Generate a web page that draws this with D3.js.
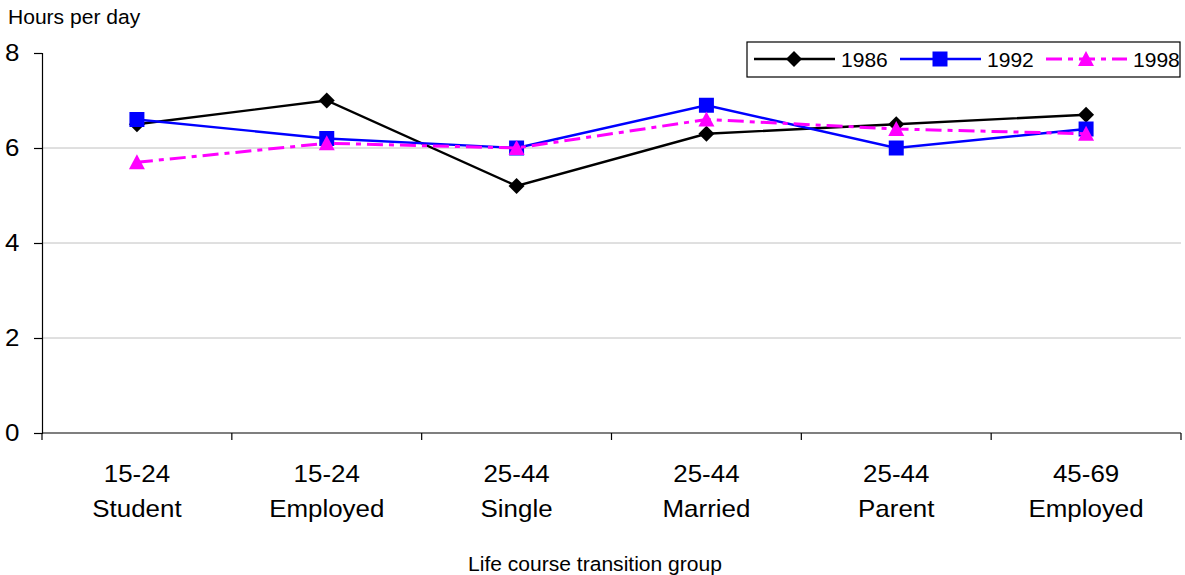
<!DOCTYPE html>
<html>
<head>
<meta charset="utf-8">
<script src="https://cdn.jsdelivr.net/npm/d3@7"></script>
<style>
  html, body { margin: 0; padding: 0; background: #fff; }
  svg { display: block; font-family: "Liberation Sans", Arial, sans-serif; }
</style>
</head>
<body>
<svg id="chart" width="1185" height="575"></svg>
<script>
// Categories (two-line labels: age band, then status)
const groupAges = ["15-24", "15-24", "25-44", "25-44", "25-44", "45-69"];
const groupStatus = ["Student", "Employed", "Single", "Married", "Parent", "Employed"];
const categories = groupAges.map((a, i) => a + " " + groupStatus[i]);

// Hours per day by survey year
const years = ["1986", "1992", "1998"];
const hours1986 = [6.5, 7.0, 5.2, 6.3, 6.5, 6.7];
const hours1992 = [6.6, 6.2, 6.0, 6.9, 6.0, 6.4];
const hours1998 = [5.7, 6.1, 6.0, 6.6, 6.4, 6.3];
const yTicks = [0, 2, 4, 6, 8];

const series = [
  { name: years[0], values: hours1986, color: "#000000", marker: "diamond", dash: null, width: 2.4 },
  { name: years[1], values: hours1992, color: "#0000ff", marker: "square", dash: null, width: 2.4 },
  { name: years[2], values: hours1998, color: "#ff00ff", marker: "triangle", dash: "16,6,5,6", width: 3 }
];

const svg = d3.select("#chart");
const margin = { left: 42, right: 4, top: 53, bottom: 142 };
const W = 1185, H = 575;
const plotW = W - margin.left - margin.right;
const plotH = H - margin.top - margin.bottom;
const stretch = "scale(1.08,1)";

const x = d3.scaleBand().domain(categories).range([0, plotW]).padding(0);
const y = d3.scaleLinear().domain([0, 8]).range([plotH, 0]);

const g = svg.append("g").attr("transform", `translate(${margin.left},${margin.top})`);

// Horizontal gridlines
g.append("g")
  .selectAll("line")
  .data(yTicks.filter(t => t > 0 && t < 8))
  .join("line")
  .attr("x1", 0).attr("x2", plotW)
  .attr("y1", d => y(d)).attr("y2", d => y(d))
  .attr("stroke", "#c0c0c0").attr("stroke-width", 1);

// Y axis
const yAxis = g.append("g")
  .call(d3.axisLeft(y).tickValues(yTicks).tickFormat(d3.format("d")).tickSize(8).tickPadding(13));
yAxis.select(".domain").attr("stroke", "#000").attr("stroke-width", 1.2);
yAxis.selectAll(".tick line").attr("stroke", "#000").attr("stroke-width", 1.2);
yAxis.selectAll(".tick text")
  .attr("font-size", 24).attr("fill", "#000")
  .attr("font-family", "Liberation Sans, Arial, sans-serif")
  .attr("transform", stretch);

// X axis: baseline with ticks at category boundaries
const xAxisG = g.append("g").attr("transform", `translate(0,${plotH})`);
xAxisG.append("line")
  .attr("x1", 0).attr("x2", plotW).attr("y1", 0).attr("y2", 0)
  .attr("stroke", "#000").attr("stroke-width", 1.2);
const boundaries = categories.map(c => x(c)).concat([plotW]);
xAxisG.selectAll("line.bt")
  .data(boundaries)
  .join("line")
  .attr("class", "bt")
  .attr("x1", d => d).attr("x2", d => d)
  .attr("y1", 0).attr("y2", 7)
  .attr("stroke", "#000").attr("stroke-width", 1.2);

// Category labels
const labels = xAxisG.selectAll("g.lab")
  .data(categories)
  .join("g")
  .attr("class", "lab")
  .attr("transform", d => `translate(${x(d) + x.bandwidth() / 2},0)`);
labels.append("text")
  .attr("text-anchor", "middle")
  .attr("font-size", 24)
  .attr("fill", "#000")
  .attr("transform", stretch)
  .each(function (d, i) {
    const t = d3.select(this);
    t.append("tspan").attr("x", 0).attr("y", 49).text(groupAges[i]);
    t.append("tspan").attr("x", 0).attr("y", 84).text(groupStatus[i]);
  });

// Marker shapes
function drawMarker(sel, s) {
  if (s.marker === "square") {
    sel.attr("d", d3.symbol().type(d3.symbolSquare).size(225)());
  } else if (s.marker === "diamond") {
    sel.attr("d", "M0,-8L8,0L0,8L-8,0Z");
  } else {
    sel.attr("d", "M0,-8L8,7L-8,7Z");
  }
  sel.attr("fill", s.color).attr("stroke", "none");
}

// Series lines and markers
const line = d3.line()
  .x((d, i) => x(categories[i]) + x.bandwidth() / 2)
  .y(d => y(d));

series.forEach(s => {
  g.append("path")
    .datum(s.values)
    .attr("d", line)
    .attr("fill", "none")
    .attr("stroke", s.color)
    .attr("stroke-width", s.width)
    .attr("stroke-dasharray", s.dash);
  g.append("g")
    .selectAll("path")
    .data(s.values)
    .join("path")
    .attr("transform", (d, i) => `translate(${x(categories[i]) + x.bandwidth() / 2},${y(d)})`)
    .call(drawMarker, s);
});

// Legend
const legend = svg.append("g").attr("transform", "translate(747,42)");
legend.append("rect")
  .attr("x", 0).attr("y", 0).attr("width", 433).attr("height", 35)
  .attr("fill", "#fff").attr("stroke", "#000").attr("stroke-width", 1.2);
const legendX = [7, 153, 299];
series.forEach((s, i) => {
  const lg = legend.append("g").attr("transform", `translate(${legendX[i]},17)`);
  lg.append("line")
    .attr("x1", 0).attr("x2", 81).attr("y1", 0).attr("y2", 0)
    .attr("stroke", s.color).attr("stroke-width", s.width)
    .attr("stroke-dasharray", s.dash);
  lg.append("path").attr("transform", "translate(40,0)").call(drawMarker, s);
  lg.append("text")
    .attr("transform", `translate(87,8) ${stretch}`)
    .attr("font-size", 19.5).attr("fill", "#000")
    .text(s.name);
});

// Axis titles
svg.append("text")
  .attr("transform", `translate(8,24) ${stretch}`)
  .attr("font-size", 19.5).attr("fill", "#000")
  .text("Hours per day");
svg.append("text")
  .attr("transform", `translate(595,571) ${stretch}`)
  .attr("text-anchor", "middle")
  .attr("font-size", 19.5).attr("fill", "#000")
  .text("Life course transition group");
</script>
</body>
</html>
